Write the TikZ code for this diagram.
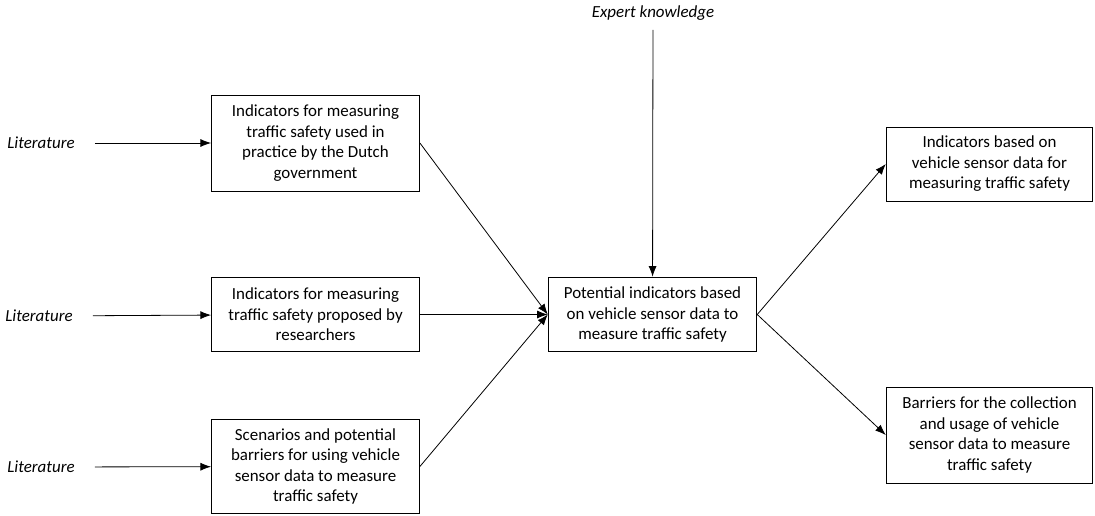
\documentclass[tikz,border=0pt]{standalone}
\usepackage{fontspec}
\setmainfont{Carlito}
\usetikzlibrary{arrows.meta}

\tikzset{
  box/.style={draw, line width=0.6pt, align=center, inner sep=0pt,
    font=\fontsize{12.7}{15.4}\selectfont},
  src/.style={font=\fontsize{12.7}{15.4}\selectfont\itshape, inner sep=1pt},
  arr/.style={line width=0.6pt, -{Latex[length=8pt,width=6pt]}}
}

\begin{document}
\begin{tikzpicture}[x=0.75pt, y=-0.75pt]
\useasboundingbox (0,0) rectangle (1095,515);

% Input boxes
\node[box, minimum width=156pt, minimum height=72pt] (ind) at (315.5,143)
  {Indicators for measuring\\traffic safety used in\\practice by the Dutch\\government};
\node[box, minimum width=156pt, minimum height=56pt] (res) at (315.5,314.5)
  {Indicators for measuring\\traffic safety proposed by\\researchers};
\node[box, minimum width=156pt, minimum height=70pt] (scn) at (315.5,466.5)
  {Scenarios and potential\\barriers for using vehicle\\sensor data to measure\\traffic safety};

% Central box
\node[box, minimum width=156.5pt, minimum height=56pt] (pot) at (652.5,314.5)
  {Potential indicators based\\on vehicle sensor data to\\measure traffic safety};

% Output boxes
\node[box, minimum width=155pt, minimum height=55.5pt] (out) at (989.5,164)
  {Indicators based on\\vehicle sensor data for\\measuring traffic safety};
\node[box, minimum width=155pt, minimum height=72pt] (bar) at (989.5,435)
  {Barriers for the collection\\and usage of vehicle\\sensor data to measure\\traffic safety};

% Sources
\node[src] (lit1) at (41,143) {Literature};
\node[src] (lit2) at (39,316) {Literature};
\node[src] (lit3) at (41,467) {Literature};
\node[src] (exp) at (653,13) {Expert knowledge};

% Connectors
\draw[arr, shorten <=14pt] (lit1) -- (ind);
\draw[arr, shorten <=14pt] (lit2) -- (res);
\draw[arr, shorten <=14pt] (lit3) -- (scn);
\draw[arr, shorten <=6pt] (exp) -- (pot);

\draw[arr] (ind.east) -- (pot.west);
\draw[arr] (res.east) -- (pot.west);
\draw[arr] (scn.east) -- (pot.west);

\draw[arr] (pot.east) -- (out.west);
\draw[arr] (pot.east) -- (bar.west);

\end{tikzpicture}
\end{document}
